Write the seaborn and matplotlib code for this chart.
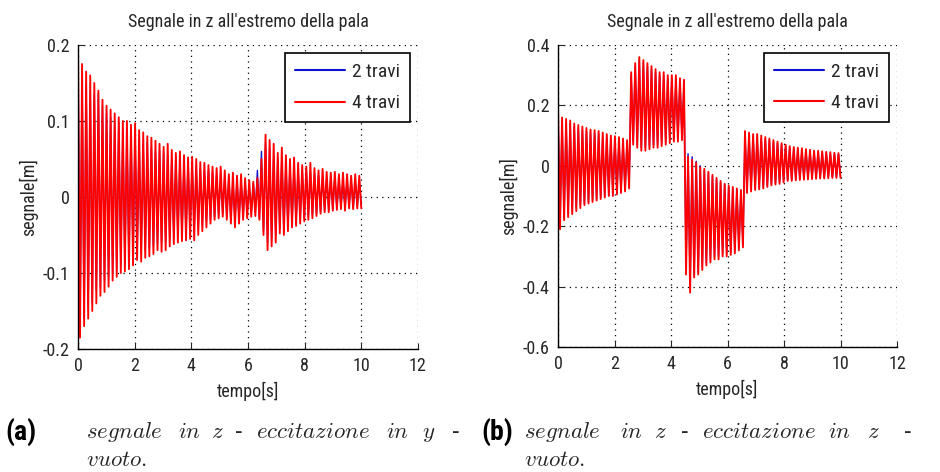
import numpy as np
import pandas as pd
import matplotlib
matplotlib.use("Agg")
import matplotlib.pyplot as plt
import seaborn as sns
from matplotlib import font_manager

# ---------------- data ----------------
# per-cycle peaks (hi) and troughs (lo), ~7 cycles per second, 0..10 s
a_red_hi = [0.20, 0.175, 0.165, 0.16, 0.15, 0.14, 0.128, 0.12, 0.115, 0.11,
            0.105, 0.10, 0.10, 0.095, 0.097, 0.088, 0.085, 0.08, 0.078, 0.074,
            0.07, 0.066, 0.07, 0.062, 0.058, 0.06, 0.055, 0.052, 0.053, 0.05,
            0.046, 0.045, 0.042, 0.04, 0.038, 0.04, 0.035, 0.03, 0.032, 0.028,
            0.03, 0.025, 0.022, 0.02, 0.025, 0.05, 0.082, 0.075, 0.07, 0.058,
            0.065, 0.055, 0.05, 0.052, 0.045, 0.042, 0.04, 0.045, 0.038, 0.035,
            0.037, 0.033, 0.032, 0.033, 0.03, 0.032, 0.03, 0.028, 0.03, 0.028]
a_red_lo = [-0.185, -0.17, -0.16, -0.15, -0.14, -0.13, -0.125, -0.118, -0.11, -0.105,
            -0.10, -0.098, -0.095, -0.09, -0.083, -0.085, -0.08, -0.078, -0.075, -0.07,
            -0.072, -0.07, -0.065, -0.062, -0.06, -0.058, -0.057, -0.055, -0.057, -0.05,
            -0.045, -0.04, -0.035, -0.03, -0.028, -0.026, -0.03, -0.035, -0.04, -0.035,
            -0.03, -0.028, -0.026, -0.025, -0.03, -0.05, -0.07, -0.065, -0.06, -0.048,
            -0.05, -0.045, -0.04, -0.038, -0.035, -0.032, -0.03, -0.028, -0.025, -0.022,
            -0.02, -0.02, -0.018, -0.017, -0.016, -0.018, -0.015, -0.016, -0.015, -0.015]
a_blue_hi = [0.19, 0.16, 0.15, 0.14, 0.135, 0.137, 0.12, 0.11, 0.105, 0.10,
             0.098, 0.09, 0.085, 0.09, 0.08, 0.078, 0.07, 0.072, 0.065, 0.06,
             0.062, 0.058, 0.055, 0.05, 0.052, 0.048, 0.045, 0.047, 0.042, 0.04,
             0.038, 0.035, 0.036, 0.032, 0.03, 0.028, 0.026, 0.025, 0.022, 0.024,
             0.02, 0.018, 0.015, 0.018, 0.035, 0.06, 0.07, 0.065, 0.055, 0.05,
             0.052, 0.045, 0.042, 0.04, 0.038, 0.035, 0.036, 0.032, 0.03, 0.028,
             0.027, 0.026, 0.025, 0.025, 0.024, 0.022, 0.023, 0.022, 0.02, 0.02]
a_blue_lo = [-0.17, -0.16, -0.145, -0.14, -0.122, -0.12, -0.11, -0.105, -0.10, -0.095,
             -0.09, -0.088, -0.085, -0.08, -0.078, -0.075, -0.07, -0.068, -0.065, -0.062,
             -0.06, -0.058, -0.055, -0.052, -0.05, -0.05, -0.048, -0.045, -0.042, -0.04,
             -0.036, -0.032, -0.03, -0.026, -0.024, -0.022, -0.025, -0.03, -0.032, -0.028,
             -0.025, -0.022, -0.02, -0.02, -0.028, -0.045, -0.06, -0.055, -0.05, -0.042,
             -0.045, -0.04, -0.036, -0.034, -0.03, -0.028, -0.026, -0.024, -0.022, -0.02,
             -0.018, -0.017, -0.016, -0.015, -0.014, -0.015, -0.013, -0.014, -0.012, -0.012]

b_red_hi = [0.20, 0.16, 0.155, 0.15, 0.14, 0.135, 0.13, 0.125, 0.12, 0.118,
            0.115, 0.11, 0.105, 0.10, 0.098, 0.095, 0.09, 0.085,
            0.31, 0.34, 0.36, 0.35, 0.34, 0.33, 0.32, 0.31, 0.31, 0.30, 0.30, 0.30, 0.29, 0.285,
            0.03, 0.02, 0.01, -0.005, -0.01, -0.02, -0.03, -0.04, -0.05, -0.06, -0.065, -0.07, -0.075, -0.08,
            0.115, 0.11, 0.105, 0.105, 0.10, 0.095, 0.09, 0.085, 0.08, 0.075,
            0.07, 0.065, 0.062, 0.06, 0.058, 0.055, 0.053, 0.05, 0.05, 0.048,
            0.046, 0.045, 0.043, 0.042]
b_red_lo = [-0.21, -0.18, -0.17, -0.16, -0.15, -0.14, -0.13, -0.125, -0.12, -0.115,
            -0.11, -0.105, -0.10, -0.10, -0.095, -0.09, -0.085, -0.075,
            0.07, 0.06, 0.05, 0.05, 0.055, 0.06, 0.06, 0.065, 0.07, 0.075, 0.08, 0.08, 0.085, -0.36,
            -0.42, -0.37, -0.36, -0.345, -0.33, -0.32, -0.31, -0.31, -0.30, -0.30, -0.295, -0.29, -0.28, -0.27,
            -0.09, -0.085, -0.08, -0.078, -0.075, -0.07, -0.065, -0.062, -0.06, -0.055,
            -0.05, -0.05, -0.048, -0.047, -0.046, -0.045, -0.044, -0.043, -0.042, -0.042,
            -0.041, -0.04, -0.04, -0.04]
b_blue_hi = [0.18, 0.15, 0.14, 0.14, 0.13, 0.125, 0.12, 0.115, 0.11, 0.108,
             0.105, 0.10, 0.095, 0.09, 0.088, 0.085, 0.08, 0.078,
             0.30, 0.33, 0.35, 0.34, 0.33, 0.32, 0.31, 0.30, 0.30, 0.29, 0.29, 0.285, 0.28, 0.275,
             0.04, 0.03, 0.015, 0.0, -0.015, -0.025, -0.035, -0.045, -0.055, -0.06, -0.07, -0.075, -0.08, -0.085,
             0.105, 0.10, 0.098, 0.095, 0.09, 0.088, 0.085, 0.08, 0.075, 0.07,
             0.065, 0.06, 0.058, 0.055, 0.052, 0.05, 0.048, 0.046, 0.045, 0.043,
             0.042, 0.04, 0.039, 0.038]
b_blue_lo = [-0.19, -0.17, -0.16, -0.15, -0.14, -0.13, -0.125, -0.12, -0.115, -0.11,
             -0.105, -0.10, -0.098, -0.095, -0.09, -0.085, -0.08, -0.07,
             0.08, 0.07, 0.06, 0.06, 0.065, 0.07, 0.07, 0.075, 0.08, 0.085, 0.09, 0.09, 0.095, -0.33,
             -0.39, -0.36, -0.35, -0.335, -0.32, -0.31, -0.30, -0.30, -0.29, -0.29, -0.285, -0.28, -0.27, -0.26,
             -0.08, -0.078, -0.075, -0.072, -0.07, -0.065, -0.06, -0.058, -0.055, -0.05,
             -0.048, -0.046, -0.045, -0.044, -0.043, -0.042, -0.041, -0.04, -0.04, -0.039,
             -0.038, -0.038, -0.037, -0.036]

series_names = ["2 travi", "4 travi"]
x_ticks = [0, 2, 4, 6, 8, 10, 12]
a_y_ticks = [-0.2, -0.1, 0, 0.1, 0.2]
a_y_labels = ["-0.2", "-0.1", "0", "0.1", "0.2"]
b_y_ticks = [-0.6, -0.4, -0.2, 0, 0.2, 0.4]
b_y_labels = ["-0.6", "-0.4", "-0.2", "0", "0.2", "0.4"]
title = "Segnale in z all'estremo della pala"
xlabel = "tempo[s]"
ylabel = "segnale[m]"
t_end = 10.0


def zigzag(hi, lo):
    n = min(len(hi), len(lo))
    vals = []
    for k in range(n):
        vals.append(hi[k])
        vals.append(lo[k])
    t = np.linspace(0, t_end, len(vals))
    return t, np.array(vals)


# ---------------- style ----------------
sns.set_style("white")
available = {f.name for f in font_manager.fontManager.ttflist}
narrow = [f for f in ["Roboto Condensed", "Liberation Sans Narrow", "Open Sans Condensed"] if f in available]
base_family = narrow + ["Liberation Sans", "DejaVu Sans"]
plt.rcParams["font.family"] = base_family
plt.rcParams["axes.unicode_minus"] = False
plt.rcParams["mathtext.fontset"] = "cm"

TXT = "#262626"
fig = plt.figure(figsize=(9.4, 4.72), dpi=100)
axA = fig.add_axes([78 / 940, 1 - 349 / 472, 340 / 940, 304 / 472])
axB = fig.add_axes([558 / 940, 1 - 347 / 472, 339 / 940, 302 / 472])


def draw(ax, blue_hi, blue_lo, red_hi, red_lo, yticks, ylabels):
    tb, vb = zigzag(blue_hi, blue_lo)
    tr, vr = zigzag(red_hi, red_lo)
    dfb = pd.DataFrame({"t": tb, "v": vb})
    dfr = pd.DataFrame({"t": tr, "v": vr})
    sns.lineplot(data=dfb, x="t", y="v", sort=False, estimator=None, color="#1010d0",
                 linewidth=1.0, ax=ax, label=series_names[0])
    sns.lineplot(data=dfr, x="t", y="v", sort=False, estimator=None, color="#ff0000",
                 linewidth=1.35, ax=ax, label=series_names[1])
    ax.set_xlim(x_ticks[0], x_ticks[-1])
    ax.set_ylim(yticks[0], yticks[-1])
    ax.set_xticks(x_ticks)
    ax.set_xticklabels([str(v) for v in x_ticks])
    ax.set_yticks(yticks)
    ax.set_yticklabels(ylabels)
    ax.grid(True, color="black", linestyle=(0, (1, 3.5)), linewidth=0.9)
    for s in ["top", "right"]:
        ax.spines[s].set_visible(False)
    for s in ["left", "bottom"]:
        ax.spines[s].set_color("black")
        ax.spines[s].set_linewidth(1.0)
    ax.tick_params(direction="in", length=4, width=0.8, labelsize=13, colors=TXT,
                   pad=6, left=True, bottom=True)
    ax.set_title(title, fontsize=13, pad=13, color=TXT)
    ax.set_xlabel(xlabel, fontsize=13, labelpad=5, color=TXT)
    ax.set_ylabel(ylabel, fontsize=13, labelpad=3, color=TXT)
    leg = ax.legend(loc="upper right", bbox_to_anchor=(1 - 8 / 340, 1 - 8 / 304),
                    borderaxespad=0, fancybox=False, framealpha=1, edgecolor="black",
                    fontsize=14, handlelength=2.6, handletextpad=0.35, borderpad=0.5,
                    labelspacing=0.7)
    leg.get_frame().set_linewidth(1.2)
    for line in leg.get_lines():
        line.set_linewidth(1.5)


draw(axA, a_blue_hi, a_blue_lo, a_red_hi, a_red_lo, a_y_ticks, a_y_labels)
draw(axB, b_blue_hi, b_blue_lo, b_red_hi, b_red_lo, b_y_ticks, b_y_labels)

# ---------------- captions ----------------
cap_y1 = 1 - 432 / 472
cap_y2 = 1 - 460 / 472
fig.text(5 / 940, cap_y1, "(a)", fontsize=20, fontweight="bold", va="center", color="black")
fig.text(481 / 940, cap_y1, "(b)", fontsize=20, fontweight="bold", va="center", color="black")

words_a = [("segnale", 86), ("in", 178), ("z", 211), ("-", 235), ("eccitazione", 256),
           ("in", 386), ("y", 422), ("-", 452)]
words_b = [("segnale", 524), ("in", 620), ("z", 654), ("-", 681), ("eccitazione", 702),
           ("in", 828), ("z", 867), ("-", 904)]


def word(x, y, w):
    if w == "-":
        fig.text(x / 940, y, "-", fontsize=16, va="center", family="DejaVu Serif")
    else:
        fig.text(x / 940, y, r"$\mathit{" + w + "}$", fontsize=16.5, va="center")


for w, x in words_a:
    word(x, cap_y1, w)
for w, x in words_b:
    word(x, cap_y1, w)
word(86, cap_y2, "vuoto.")
word(524, cap_y2, "vuoto.")

fig.savefig("out.png", dpi=100)
